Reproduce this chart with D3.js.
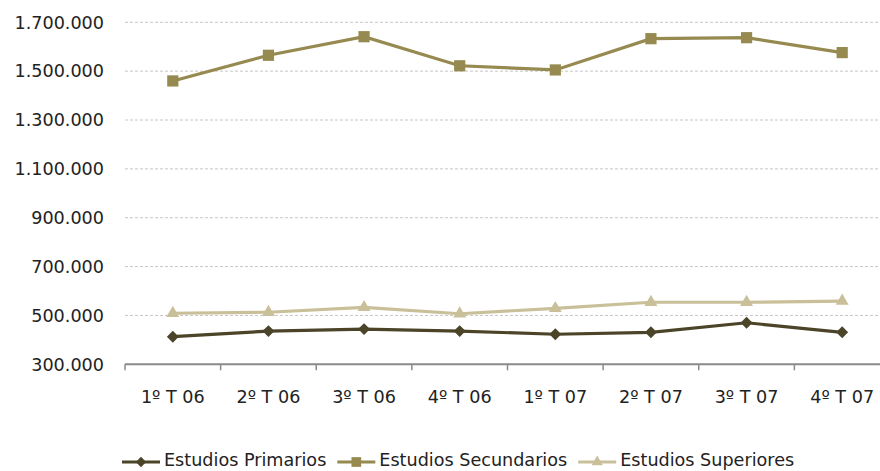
<!DOCTYPE html>
<html><head><meta charset="utf-8">
<script src="https://cdn.jsdelivr.net/npm/d3@7"></script>
<style>body{margin:0;background:#fff}svg{display:block}text{font-family:"DejaVu Sans",Verdana,sans-serif}</style>
</head><body><svg id="c" width="880" height="471"></svg>
<script>
const categories = ["1º T 06","2º T 06","3º T 06","4º T 06","1º T 07","2º T 07","3º T 07","4º T 07"];
const primarios = [413000,436000,444000,436000,423000,431000,470000,431000];
const secundarios = [1460000,1565000,1641000,1522000,1505000,1633000,1637000,1576000];
const superiores = [509000,513000,533000,507000,529000,554000,554000,559000];
const yTicks = [300000,500000,700000,900000,1100000,1300000,1500000,1700000];
const seriesNames = ["Estudios Primarios","Estudios Secundarios","Estudios Superiores"];

const svg = d3.select("#c");
const pLeft = 125, pRight = 890, pTop = 22.3, pBottom = 364.3;
const x = d3.scaleBand().domain(categories).range([pLeft, pRight]);
const y = d3.scaleLinear().domain([300000, 1700000]).range([pBottom, pTop]);
const fmt = v => d3.format(",")(v).replace(/,/g, ".");

// gridlines
svg.append("g").selectAll("line").data(yTicks.filter(v => v > 300000)).join("line")
  .attr("x1", pLeft).attr("x2", 880).attr("y1", d => y(d)).attr("y2", d => y(d))
  .attr("stroke", "#c6c6c6").attr("stroke-width", 1).attr("stroke-dasharray", "3,2");

// y labels
svg.append("g").selectAll("text").data(yTicks).join("text")
  .attr("x", 104).attr("y", d => y(d)).attr("dy", "0.36em")
  .attr("text-anchor", "end").attr("font-size", 17.6).attr("fill", "#222")
  .text(fmt);

// x axis
svg.append("line").attr("x1", pLeft).attr("x2", 880).attr("y1", pBottom).attr("y2", pBottom)
  .attr("stroke", "#8a8a8a").attr("stroke-width", 2);
svg.append("g").selectAll("line").data(categories).join("line")
  .attr("x1", d => x(d)).attr("x2", d => x(d)).attr("y1", pBottom).attr("y2", pBottom + 6)
  .attr("stroke", "#8a8a8a").attr("stroke-width", 1.5);
svg.append("g").selectAll("text").data(categories).join("text")
  .attr("x", d => x(d) + x.bandwidth() / 2).attr("y", 397).attr("dy", "0.36em")
  .attr("text-anchor", "middle").attr("font-size", 17.6).attr("fill", "#222")
  .text(d => d);

const series = [
  {name: seriesNames[0], values: primarios, color: "#4b4429", shape: d3.symbolDiamond2, size: 90},
  {name: seriesNames[1], values: secundarios, color: "#968a50", shape: d3.symbolSquare2, size: 160},
  {name: seriesNames[2], values: superiores, color: "#c9c09a", shape: d3.symbolTriangle2, size: 120}
];
const cx = d => x(d) + x.bandwidth() / 2;
const drawOrder = [series[1], series[2], series[0]];
drawOrder.forEach(s => {
  const g = svg.append("g");
  g.append("path").datum(s.values)
    .attr("d", d3.line().x((v, i) => cx(categories[i])).y(v => y(v)))
    .attr("fill", "none").attr("stroke", s.color).attr("stroke-width", 3.2);
  g.selectAll("path.m").data(s.values).join("path").attr("class", "m")
    .attr("transform", (v, i) => `translate(${cx(categories[i])},${y(v)})`)
    .attr("d", d3.symbol().type(s.shape).size(s.size)).attr("fill", s.color);
});

// legend
const ly = 462;
let lx = 122;
series.forEach(s => {
  const g = svg.append("g").attr("transform", `translate(${lx},${ly})`);
  g.append("line").attr("x1", 0).attr("x2", 38).attr("y1", 0).attr("y2", 0)
    .attr("stroke", s.color).attr("stroke-width", 3.2);
  g.append("path").attr("transform", "translate(19,0)")
    .attr("d", d3.symbol().type(s.shape).size(s.size * 0.75)).attr("fill", s.color);
  const t = g.append("text").attr("x", 42).attr("y", 4).attr("dy", "0em")
    .attr("font-size", 17.6).attr("fill", "#222").text(s.name);
  lx += 42 + t.node().getComputedTextLength() + 11;
});
</script></body></html>
